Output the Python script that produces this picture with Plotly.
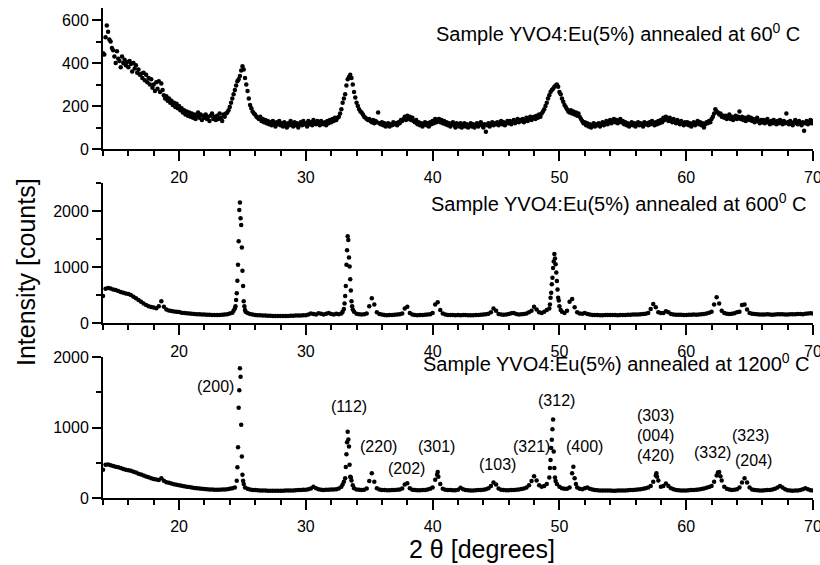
import plotly.graph_objects as go

# ---------------- data ----------------
X_MIN, X_MAX = 14.0, 70.0

# Top panel: annealed at 60 C, sampled every 0.1 deg from 14.0 to 70.0
p1_step = 0.1
p1_counts = [
    445, 440, 520, 575, 545, 510, 500, 470, 460, 430,   # 14
    400, 455, 420, 410, 380, 430, 400, 415, 390, 405,   # 15
    380, 410, 395, 360, 400, 375, 390, 355, 370, 345,   # 16
    350, 330, 355, 320, 345, 310, 330, 300, 325, 285,   # 17
    300, 270, 310, 280, 315, 265, 305, 275, 250, 235,   # 18
    245, 225, 235, 215, 225, 205, 215, 195, 210, 190,   # 19
    200, 180, 190, 170, 180, 160, 175, 155, 170, 150,   # 20
    165, 145, 160, 140, 155, 170, 145, 160, 135, 155,   # 21
    145, 160, 140, 150, 130, 155, 165, 140, 150, 135,   # 22
    155, 140, 165, 145, 130, 160, 150, 165, 170, 180,   # 23
    195, 215, 235, 255, 275, 295, 315, 325, 340, 365,   # 24
    385, 370, 330, 300, 270, 235, 205, 190, 175, 165,   # 25
    160, 150, 145, 140, 150, 130, 140, 125, 135, 120,   # 26
    130, 115, 125, 110, 130, 120, 105, 125, 115, 130,   # 27
    110, 120, 105, 125, 115, 100, 120, 110, 130, 115,   # 28
    105, 125, 110, 120, 100, 115, 125, 110, 130, 115,   # 29
    120, 105, 130, 115, 125, 110, 135, 120, 115, 130,   # 30
    125, 110, 130, 120, 115, 125, 110, 130, 120, 135,   # 31
    125, 140, 130, 145, 135, 145, 150, 165, 185, 215,   # 32
    235, 255, 295, 325, 335, 345, 330, 300, 265, 240,   # 33
    215, 200, 185, 175, 170, 160, 150, 145, 140, 135,   # 34
    140, 130, 125, 135, 120, 130, 125, 170, 120, 115,   # 35
    125, 110, 120, 105, 115, 120, 105, 115, 110, 125,   # 36
    115, 120, 110, 125, 120, 135, 130, 140, 150, 135,   # 37
    155, 140, 150, 135, 145, 130, 125, 135, 115, 125,   # 38
    110, 120, 105, 115, 125, 110, 120, 105, 125, 115,   # 39
    130, 120, 140, 125, 135, 140, 125, 135, 120, 130,   # 40
    115, 125, 110, 120, 105, 115, 125, 110, 100, 120,   # 41
    115, 105, 120, 100, 110, 120, 105, 115, 100, 110,   # 42
    120, 105, 115, 100, 110, 120, 105, 115, 125, 110,   # 43
    100, 115, 80, 110, 120, 105, 115, 125, 110, 120,    # 44
    115, 125, 110, 120, 130, 115, 125, 110, 120, 130,   # 45
    120, 130, 115, 125, 135, 120, 130, 140, 125, 135,   # 46
    130, 140, 125, 135, 145, 130, 140, 150, 135, 145,   # 47
    150, 140, 155, 145, 160, 150, 165, 175, 185, 200,   # 48
    215, 235, 250, 265, 275, 280, 290, 295, 300, 290,   # 49
    265, 255, 235, 220, 205, 195, 185, 175, 170, 180,   # 50
    165, 175, 160, 170, 155, 165, 150, 140, 130, 120,   # 51
    125, 110, 120, 105, 115, 100, 110, 120, 105, 115,   # 52
    110, 120, 105, 115, 125, 110, 120, 130, 115, 125,   # 53
    135, 120, 130, 140, 125, 135, 120, 130, 140, 125,   # 54
    130, 115, 125, 110, 120, 105, 115, 125, 110, 120,   # 55
    105, 115, 125, 110, 120, 115, 105, 125, 115, 120,   # 56
    110, 125, 115, 130, 120, 110, 125, 115, 130, 120,   # 57
    135, 125, 145, 135, 150, 140, 130, 145, 135, 125,   # 58
    140, 130, 120, 135, 125, 115, 130, 120, 110, 125,   # 59
    115, 125, 110, 120, 105, 115, 125, 110, 120, 130,   # 60
    115, 125, 110, 120, 100, 115, 125, 120, 130, 125,   # 61
    140, 150, 165, 185, 175, 170, 160, 165, 150, 155,   # 62
    145, 155, 140, 150, 160, 140, 150, 135, 145, 155,   # 63
    140, 150, 175, 140, 150, 135, 145, 130, 140, 150,   # 64
    135, 145, 130, 140, 125, 135, 145, 130, 120, 135,   # 65
    125, 135, 120, 130, 140, 125, 115, 130, 120, 135,   # 66
    125, 115, 130, 120, 135, 125, 115, 130, 120, 165,   # 67
    125, 115, 130, 120, 110, 125, 135, 120, 115, 130,   # 68
    120, 110, 125, 85, 120, 130, 115, 125, 135, 120,    # 69
    130,                                                # 70
]

# Middle and bottom panels: base scan every 0.2 deg from 14.0 to 70.0
p23_step = 0.2
p2_counts = [
    480, 610, 625, 615, 600, 590, 570, 555, 540, 525,    # 14-15.8
    520, 500, 470, 440, 410, 380, 350, 320, 300, 285,    # 16
    275, 265, 300, 390, 290, 240, 225, 215, 205, 200,    # 18
    195, 185, 180, 175, 170, 165, 160, 158, 155, 152,    # 20
    150, 148, 146, 145, 143, 142, 145, 148, 152, 158,    # 22
    170, 185, 260, 755, 2150, 935, 230, 180, 160, 150,   # 24
    145, 140, 138, 135, 132, 130, 128, 127, 126, 125,    # 26
    125, 126, 125, 127, 128, 130, 132, 134, 136, 138,    # 28
    140, 150, 170, 160, 150, 175, 165, 150, 165, 180,    # 30
    160, 150, 165, 155, 170, 250, 1040, 1170, 390, 200,  # 32
    165, 155, 150, 155, 170, 300, 440, 330, 190, 160,    # 34
    150, 145, 140, 142, 145, 148, 150, 155, 170, 260,    # 36
    290, 180, 150, 145, 140, 142, 145, 148, 150, 155,    # 38
    180, 330, 370, 230, 170, 150, 145, 143, 142, 140,    # 40
    142, 140, 145, 142, 140, 138, 140, 142, 145, 148,    # 42
    150, 155, 165, 190, 260, 220, 160, 150, 148, 150,    # 44
    160, 175, 180, 160, 150, 155, 160, 170, 190, 220,    # 46
    290, 240, 190, 180, 200, 230, 260, 690, 1230, 750,   # 48
    300, 200, 180, 220, 380, 430, 280, 190, 170, 165,    # 50
    180, 160, 150, 145, 143, 142, 140, 140, 142, 143,    # 52
    145, 143, 142, 140, 142, 143, 145, 146, 148, 150,    # 54
    150, 152, 155, 160, 165, 180, 250, 340, 280, 190,    # 56
    180, 180, 210, 190, 160, 150, 148, 147, 146, 145,    # 58
    145, 146, 148, 150, 148, 150, 155, 160, 170, 185,    # 60
    200, 330, 460, 350, 220, 180, 165, 160, 165, 175,    # 62
    190, 200, 320, 330, 240, 180, 165, 160, 155, 150,    # 64
    150, 152, 155, 150, 148, 152, 155, 158, 155, 150,    # 66
    152, 155, 158, 155, 160, 162, 158, 165, 170, 172,    # 68
    170,                                                 # 70
]
# extra points read on the sharp reflections (600 C)
p2_peak_x = [24.3, 24.45, 24.5, 24.55, 24.65, 24.7, 24.75, 24.85, 24.9, 24.95,
             25.05, 25.1, 25.15, 25.25,
             32.9, 33.05, 33.1, 33.15, 33.25, 33.3, 33.35, 33.45, 33.5, 33.55,
             33.65, 33.7,
             49.25, 49.3, 49.35, 49.45, 49.5, 49.55, 49.65, 49.7, 49.75, 49.85,
             49.9, 49.95, 50.1]
p2_peak_y = [220, 300, 410, 530, 1040, 1460, 2020, 1870, 1750, 1350,
             660, 390, 300, 200,
             200, 350, 480, 660, 1300, 1550, 1480, 1010, 780, 580,
             300, 240,
             330, 450, 540, 810, 980, 1100, 1150, 1050, 900, 600,
             450, 400, 230]

p3_counts = [
    400, 470, 475, 465, 455, 445, 435, 425, 410, 400,    # 14
    395, 385, 372, 360, 345, 335, 320, 305, 295, 280,    # 16
    270, 262, 255, 280, 245, 225, 215, 205, 195, 188,    # 18
    180, 175, 168, 160, 155, 148, 143, 138, 134, 130,    # 20
    128, 125, 122, 120, 118, 117, 118, 120, 122, 125,    # 22
    130, 138, 150, 435, 1840, 330, 150, 130, 120, 115,   # 24
    112, 110, 108, 106, 105, 104, 103, 102, 102, 102,    # 26
    103, 104, 105, 106, 107, 108, 110, 112, 114, 116,    # 28
    118, 125, 135, 160, 140, 125, 118, 115, 116, 118,    # 30
    120, 122, 125, 135, 160, 230, 620, 730, 250, 140,    # 32
    122, 118, 115, 118, 135, 240, 350, 230, 140, 120,    # 34
    115, 112, 110, 110, 112, 114, 116, 120, 135, 190,    # 36
    210, 140, 118, 112, 110, 110, 112, 115, 120, 130,    # 38
    150, 260, 370, 200, 130, 118, 115, 112, 110, 110,    # 40
    118, 145, 125, 112, 110, 108, 108, 110, 112, 115,    # 42
    118, 125, 140, 170, 220, 190, 135, 118, 112, 110,    # 44
    110, 112, 115, 118, 122, 128, 135, 150, 180, 240,    # 46
    310, 250, 180, 160, 170, 200, 290, 825, 425, 200,    # 48
    160, 140, 130, 130, 150, 350, 280, 150, 130, 125,    # 50
    140, 150, 130, 120, 112, 110, 108, 106, 105, 105,    # 52
    105, 104, 104, 105, 106, 107, 108, 110, 112, 115,    # 54
    118, 120, 125, 130, 140, 150, 170, 230, 320, 250,    # 56
    160, 170, 205, 170, 140, 125, 115, 110, 108, 108,    # 58
    108, 110, 112, 115, 118, 122, 128, 135, 145, 155,    # 60
    170, 230, 320, 370, 250, 160, 130, 120, 115, 118,    # 62
    125, 150, 220, 280, 220, 150, 120, 112, 110, 108,    # 64
    108, 110, 112, 115, 120, 130, 150, 170, 150, 125,    # 66
    110, 105, 104, 105, 108, 112, 125, 140, 125, 110,    # 68
    108,                                                 # 70
]
# extra points read on the sharp reflections (1200 C)
p3_peak_x = [24.55, 24.65, 24.7, 24.75, 24.85, 24.9, 24.95, 25.05, 25.1,
             32.9, 33.1, 33.15, 33.25, 33.3, 33.35, 33.45, 33.5, 33.55, 33.7,
             40.35, 40.45,
             49.25, 49.3, 49.35, 49.45, 49.5, 49.55, 49.65, 49.7,
             51.1, 51.3,
             57.65, 57.7,
             62.5, 62.7]
p3_peak_y = [245, 720, 1280, 1530, 1720, 1040, 590, 245, 200,
             190, 280, 440, 790, 940, 830, 470, 300, 290, 180,
             330, 300,
             425, 540, 710, 975, 1115, 660, 290, 240,
             445, 200,
             350, 300,
             360, 310]

panel_titles = ["Sample YVO4:Eu(5%) annealed at 60<sup>0</sup> C",
                "Sample YVO4:Eu(5%) annealed at 600<sup>0</sup> C",
                "Sample YVO4:Eu(5%) annealed at 1200<sup>0</sup> C"]
title_x = [69.13, 69.6, 69.92]
title_y = [540, 2160, 1915]

hkl_labels = ["(200)", "(112)", "(220)", "(202)", "(301)", "(103)", "(321)",
              "(312)", "(400)", "(303)", "(004)", "(420)", "(332)", "(323)", "(204)"]
hkl_x = [22.9, 33.41, 35.71, 37.9, 40.27, 45.11, 47.8,
         49.74, 51.97, 57.54, 57.54, 57.54, 62.08, 65.04, 65.27]
hkl_y = [1578, 1305, 737, 421, 728, 482, 728,
         1390, 728, 1167, 884, 600, 643, 893, 539]

y_titles = "Intensity [counts]"
x_title = "2 θ [degrees]"

# ---------------- figure ----------------
FONT = "Arial, 'Liberation Sans', sans-serif"

x1 = [round(X_MIN + i * p1_step, 2) for i in range(len(p1_counts))]
x2 = [round(X_MIN + i * p23_step, 2) for i in range(len(p2_counts))]
x3 = [round(X_MIN + i * p23_step, 2) for i in range(len(p3_counts))]

fig = go.Figure()
mk = dict(color="black", size=4.5, line=dict(width=0))
fig.add_trace(go.Scatter(x=x1, y=p1_counts, mode="markers", marker=mk,
                         xaxis="x", yaxis="y", showlegend=False))
fig.add_trace(go.Scatter(x=x2 + p2_peak_x, y=p2_counts + p2_peak_y, mode="markers",
                         marker=mk, xaxis="x2", yaxis="y2", showlegend=False))
fig.add_trace(go.Scatter(x=x3 + p3_peak_x, y=p3_counts + p3_peak_y, mode="markers",
                         marker=mk, xaxis="x3", yaxis="y3", showlegend=False))

H = 565.0
top, bot = 8, 67
ph = H - top - bot


def dom(y_top_px, y_bot_px):
    return [(H - bot - y_bot_px) / ph, (H - bot - y_top_px) / ph]


def xax(anchor):
    return dict(range=[X_MIN, X_MAX], anchor=anchor, automargin=False,
                showline=True, linewidth=2,
                linecolor="black", ticks="outside", ticklen=10, tickwidth=2,
                tickcolor="black", tick0=0, dtick=10, showgrid=False,
                zeroline=False, tickfont=dict(size=16, family=FONT, color="black"),
                ticklabeloverflow="allow", ticklabelstandoff=3,
                minor=dict(ticks="outside", ticklen=5, tickwidth=2,
                           tickcolor="black", tick0=0, dtick=2, showgrid=False))


def yax(anchor, rng, dtick, mdtick, domain):
    return dict(range=rng, anchor=anchor, domain=domain, automargin=False,
                showline=True,
                linewidth=2, linecolor="black", ticks="outside", ticklen=9,
                tickwidth=2, tickcolor="black", tick0=0, dtick=dtick,
                showgrid=False, zeroline=False,
                tickfont=dict(size=16, family=FONT, color="black"),
                minor=dict(ticks="outside", ticklen=5, tickwidth=2,
                           tickcolor="black", tick0=0, dtick=mdtick,
                           showgrid=False))


annotations = []
for i, (t, tx, ty) in enumerate(zip(panel_titles, title_x, title_y)):
    sfx = "" if i == 0 else str(i + 1)
    annotations.append(dict(text=t, x=tx, y=ty, xref="x" + sfx, yref="y" + sfx,
                            xanchor="right", yanchor="middle", showarrow=False,
                            font=dict(size=20, family=FONT, color="black")))
for t, hx, hy in zip(hkl_labels, hkl_x, hkl_y):
    annotations.append(dict(text=t, x=hx, y=hy, xref="x3", yref="y3",
                            xanchor="center", yanchor="middle", showarrow=False,
                            font=dict(size=16, family=FONT, color="black")))
annotations.append(dict(text=y_titles, x=(26 - 103) / 710, y=(498 - 272) / ph,
                        xref="paper", yref="paper", textangle=-90,
                        xanchor="center", yanchor="middle", showarrow=False,
                        font=dict(size=25, family=FONT, color="black")))
annotations.append(dict(text=x_title, x=(482 - 103) / 710, y=(498 - 549) / ph,
                        xref="paper", yref="paper", xanchor="center",
                        yanchor="middle", showarrow=False,
                        font=dict(size=25, family=FONT, color="black")))

fig.update_layout(
    template="none",
    width=820, height=565,
    margin=dict(l=103, r=7, t=top, b=bot, pad=0, autoexpand=False),
    paper_bgcolor="white", plot_bgcolor="white",
    font=dict(family=FONT, color="black", size=16),
    xaxis=xax("y"), yaxis=yax("x", [0, 656], 200, 100, dom(8, 149)),
    xaxis2=xax("y2"), yaxis2=yax("x2", [0, 2500], 1000, 500, dom(183, 323)),
    xaxis3=xax("y3"), yaxis3=yax("x3", [0, 2000], 1000, 500, dom(357, 498)),
    annotations=annotations,
    showlegend=False,
)

# remove the browser's default 8px page margin so the figure fills the window
fig.write_html("out.html",
               config={"displayModeBar": False},
               post_script="document.body.style.margin='0';"
                           "document.body.style.overflow='hidden';")
